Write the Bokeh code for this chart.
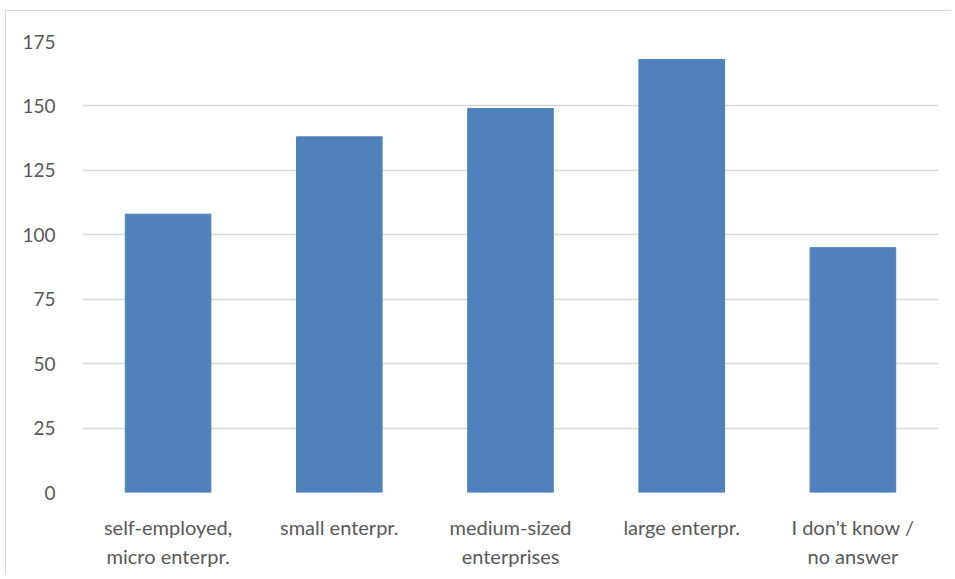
from bokeh.plotting import figure
from bokeh.models import Range1d, FactorRange, SingleIntervalTicker, ColumnDataSource
from bokeh.embed import file_html
from bokeh.resources import INLINE

categories = ["self-employed, micro enterpr.", "small enterpr.", "medium-sized enterprises",
              "large enterpr.", "I don't know / no answer"]
tick_labels = ["self-employed,\nmicro enterpr.", "small enterpr.", "medium-sized\nenterprises",
               "large enterpr.", "I don't know /\nno answer"]
values = [108, 138, 149, 168, 95]

FONT = "Lato"
TEXT = "#595959"
GRID = "#d9d9d9"
BAR = "#4f81bd"

src = ColumnDataSource(dict(cat=tick_labels, val=values, name=categories))

p = figure(x_range=FactorRange(*tick_labels, range_padding=0), y_range=Range1d(0, 175),
           width=946, height=564, output_backend="svg", toolbar_location=None,
           min_border_left=76, min_border_right=14, min_border_top=30, min_border_bottom=83)
p.vbar(x="cat", top="val", width=0.5, source=src, fill_color=BAR, line_color=BAR)

p.outline_line_color = None
p.background_fill_color = "white"
p.border_fill_color = "white"
p.styles = {"border-top": "1px solid #d9d9d9", "border-left": "1px solid #d9d9d9",
            "margin-top": "10px", "margin-left": "5px"}

p.xgrid.grid_line_color = None
p.ygrid.grid_line_color = GRID
p.ygrid.grid_line_width = 1.5

p.yaxis.ticker = SingleIntervalTicker(interval=25)
p.yaxis.axis_line_color = None
p.yaxis.major_tick_line_color = None
p.yaxis.minor_tick_line_color = None
p.yaxis.major_tick_out = 0
p.yaxis.major_label_standoff = 23
p.yaxis.major_label_text_font = FONT
p.yaxis.major_label_text_font_size = "19px"
p.yaxis.major_label_text_color = TEXT

p.xaxis.axis_line_color = None
p.xaxis.major_tick_line_color = None
p.xaxis.major_tick_out = 0
p.xaxis.major_label_standoff = 22
p.xaxis.major_label_text_font = FONT
p.xaxis.major_label_text_font_size = "20px"
p.xaxis.major_label_text_color = TEXT
p.xaxis.major_label_text_line_height = 1.22

open("out.html", "w").write(file_html(p, INLINE))
